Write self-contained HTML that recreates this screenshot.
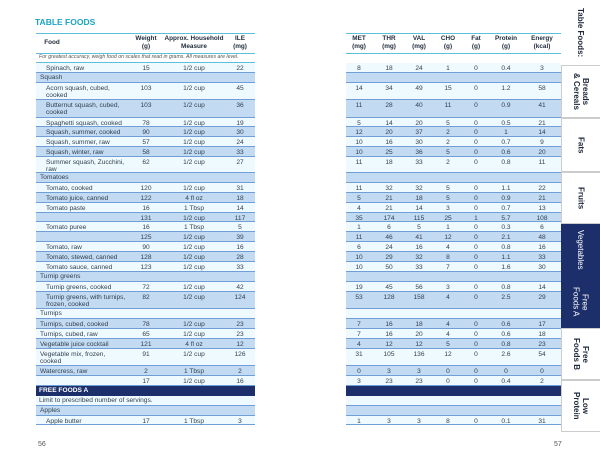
<!DOCTYPE html>
<html><head><meta charset="utf-8">
<style>
body{margin:0;width:600px;height:461px;background:#fff;position:relative;overflow:hidden;font-family:"Liberation Sans",sans-serif;color:#33414f}
.a{position:absolute}
.row{position:absolute;box-sizing:border-box;border-bottom:1px solid #6f9fd6;font-size:6.6px;line-height:7.5px}
.b{background:#c2daf2}.w{background:#eefaff}.d{background:#1c2f6a}
.c{position:absolute;top:1.5px;text-align:center;transform:translateX(-50%);white-space:nowrap}
.f{position:absolute;top:1.5px;width:80px}
.hd{position:absolute;font-size:6.4px;font-weight:bold;text-align:center;line-height:7.5px;transform:translateX(-50%);white-space:nowrap;color:#1e2a3a}
.tab{position:absolute;left:561px;width:39px;box-sizing:border-box;border:1px solid #ccc;border-right:none;background:#fff;writing-mode:vertical-rl;display:flex;align-items:center;justify-content:center;font-size:8px;font-weight:bold;line-height:9px;text-align:center;color:#1e2a3a}
</style></head><body>
<div class="a" style="left:35px;top:17px;font-size:8.5px;font-weight:bold;color:#1ba3c6">TABLE FOODS</div>
<div class="a" style="left:36px;top:33px;width:219px;height:19px;border-top:1px solid #5cc0d8;border-bottom:1px solid #5cc0d8"></div>
<div class="a" style="left:346px;top:33px;width:216px;height:19px;border-top:1px solid #5cc0d8;border-bottom:1px solid #5cc0d8"></div>
<div class="hd" style="left:52px;top:39px">Food</div>
<div class="hd" style="left:146px;top:35px">Weight<br>(g)</div>
<div class="hd" style="left:194px;top:35px">Approx. Household<br>Measure</div>
<div class="hd" style="left:240px;top:35px">ILE<br>(mg)</div>
<div id="rh"></div>
<div class="a" style="left:36px;top:52px;width:219px;height:11px;border-bottom:1px solid #5cc0d8;font-size:5.2px;font-style:italic;line-height:10px;padding-left:3px;box-sizing:border-box;color:#555">For greatest accuracy, weigh food on scales that read in grams. All measures are level.</div>
<div class="a" style="left:346px;top:52px;width:216px;height:11px;border-bottom:1px solid #5cc0d8"></div>
<div id="rows"></div>
<div class="a" style="left:38px;top:441px;font-size:7px;color:#555">56</div>
<div class="a" style="left:554px;top:441px;font-size:7px;color:#555">57</div>
<div class="tab" style="top:0;height:65px;border:none">Table Foods:</div>
<div class="tab" style="top:65px;height:53px">Breads<br>&amp; Cereals</div>
<div class="tab" style="top:118px;height:54px">Fats</div>
<div class="tab" style="top:172px;height:52px">Fruits</div>
<div class="tab" style="top:224px;height:52px;background:#1c2f6a;color:#fff;font-weight:normal;border:none">Vegetables</div>
<div class="tab" style="top:276px;height:52px;background:#1c2f6a;color:#fff;font-weight:normal;border:none">Free<br>Foods A</div>
<div class="tab" style="top:328px;height:52px">Free<br>Foods B</div>
<div class="tab" style="top:380px;height:52px">Low<br>Protein</div>
<script>
const rhHeads=["MET<br>(mg)","THR<br>(mg)","VAL<br>(mg)","CHO<br>(g)","Fat<br>(g)","Protein<br>(g)","Energy<br>(kcal)"];
const rcols=[359,389,419,448,476,506,542];
let rh=document.getElementById('rh');
rhHeads.forEach((h,i)=>{let d=document.createElement('div');d.className='hd';d.style.left=rcols[i]+'px';d.style.top='35px';d.innerHTML=h;


rh.appendChild(d);});
const rows=[
["i","w",10,"Spinach, raw",1,"15","1/2 cup","22","8","18","24","1","0","0.4","3"],
["g","b",10,"Squash"],
["i","w",17,"Acorn squash, cubed, cooked",1,"103","1/2 cup","45","14","34","49","15","0","1.2","58"],
["i","b",18,"Butternut squash, cubed, cooked",1,"103","1/2 cup","36","11","28","40","11","0","0.9","41"],
["i","w",9,"Spaghetti squash, cooked",1,"78","1/2 cup","19","5","14","20","5","0","0.5","21"],
["i","b",10,"Squash, summer, cooked",1,"90","1/2 cup","30","12","20","37","2","0","1","14"],
["i","w",10,"Squash, summer, raw",1,"57","1/2 cup","24","10","16","30","2","0","0.7","9"],
["i","b",10,"Squash, winter, raw",1,"58","1/2 cup","33","10","25","36","5","0","0.6","20"],
["i","w",16,"Summer squash, Zucchini, raw",1,"62","1/2 cup","27","11","18","33","2","0","0.8","11"],
["g","b",10,"Tomatoes"],
["i","w",10,"Tomato, cooked",1,"120","1/2 cup","31","11","32","32","5","0","1.1","22"],
["i","b",10,"Tomato juice, canned",1,"122","4 fl oz","18","5","21","18","5","0","0.9","21"],
["i","w",10,"Tomato paste",1,"16","1 Tbsp","14","4","21","14","3","0","0.7","13"],
["i","b",9,"",1,"131","1/2 cup","117","35","174","115","25","1","5.7","108"],
["i","w",10,"Tomato puree",1,"16","1 Tbsp","5","1","6","5","1","0","0.3","6"],
["i","b",10,"",1,"125","1/2 cup","39","11","46","41","12","0","2.1","48"],
["i","w",10,"Tomato, raw",1,"90","1/2 cup","16","6","24","16","4","0","0.8","16"],
["i","b",10,"Tomato, stewed, canned",1,"128","1/2 cup","28","10","29","32","8","0","1.1","33"],
["i","w",10,"Tomato sauce, canned",1,"123","1/2 cup","33","10","50","33","7","0","1.6","30"],
["g","b",10,"Turnip greens"],
["i","w",10,"Turnip greens, cooked",1,"72","1/2 cup","42","19","45","56","3","0","0.8","14"],
["i","b",17,"Turnip greens, with turnips, frozen, cooked",1,"82","1/2 cup","124","53","128","158","4","0","2.5","29"],
["g","w",10,"Turnips"],
["i","b",10,"Turnips, cubed, cooked",0,"78","1/2 cup","23","7","16","18","4","0","0.6","17"],
["i","w",10,"Turnips, cubed, raw",0,"65","1/2 cup","23","7","16","20","4","0","0.6","18"],
["i","b",10,"Vegetable juice cocktail",0,"121","4 fl oz","12","4","12","12","5","0","0.8","23"],
["i","w",17,"Vegetable mix, frozen, cooked",0,"91","1/2 cup","126","31","105","136","12","0","2.6","54"],
["i","b",10,"Watercress, raw",0,"2","1 Tbsp","2","0","3","3","0","0","0","0"],
["i","w",10,"",0,"17","1/2 cup","16","3","23","23","0","0","0.4","2"],
["h","d",10,"FREE FOODS A"],
["n","w",10,"Limit to prescribed number of servings."],
["g","b",10,"Apples"],
["i","w",9,"Apple butter",1,"17","1 Tbsp","3","1","3","3","8","0","0.1","31"]
];
const lcols=[146,194,240];
let c=document.getElementById('rows'),y=63;
rows.forEach(r=>{
 const h=r[2];
 [[36,219],[346,216]].forEach((seg,si)=>{
  let d=document.createElement('div');d.className='row '+r[1];
  d.style.left=seg[0]+'px';d.style.width=seg[1]+'px';d.style.top=y+'px';d.style.height=h+'px';
  
  
  if(r[0]=='h'&&si==0){d.style.color='#fff';d.style.fontWeight='bold';d.style.borderBottom='none';d.style.paddingLeft='3px';d.style.lineHeight=h+'px';d.textContent=r[3];}
  else if(r[0]=='h'){d.style.borderBottom='none';}
  else if(r[0]=='n'&&si==0){d.style.paddingLeft='3px';d.style.lineHeight=(h-1)+'px';d.textContent=r[3];}
  else if(r[0]=='g'&&si==0){d.style.paddingLeft='4px';d.style.lineHeight=(h-1)+'px';d.textContent=r[3];}
  else if(r[0]=='i'){
   if(si==0){
    let f=document.createElement('div');f.className='f';f.style.left=(r[4]?10:4)+'px';f.textContent=r[3];d.appendChild(f);
    [r[5],r[6],r[7]].forEach((v,i)=>{let e=document.createElement('div');e.className='c';e.style.left=(lcols[i]-36)+'px';e.textContent=v;d.appendChild(e);});
   } else {
    r.slice(8).forEach((v,i)=>{let e=document.createElement('div');e.className='c';e.style.left=(rcols[i]-346)+'px';e.textContent=v;d.appendChild(e);});
   }
  }
  c.appendChild(d);
 });
 y+=h;
});
</script>
</body></html>
